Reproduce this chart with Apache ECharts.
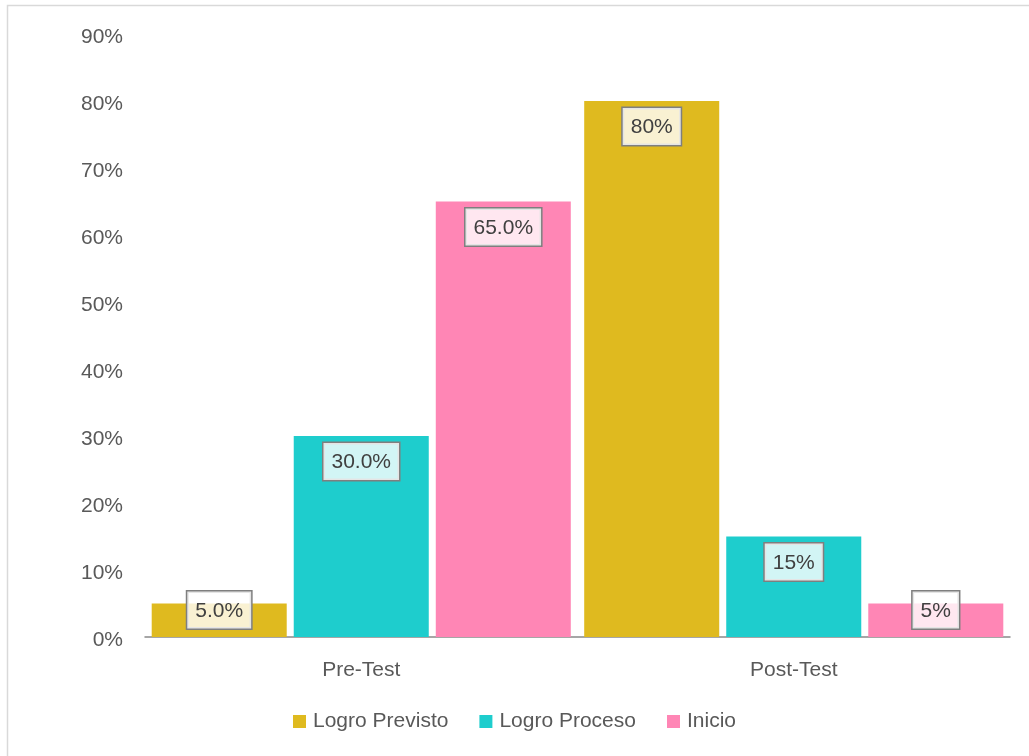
<!DOCTYPE html>
<html>
<head>
<meta charset="utf-8">
<script src="https://cdn.jsdelivr.net/npm/echarts@6/dist/echarts.min.js"></script>
<style>
html,body{margin:0;padding:0;background:#fff;}
#chart{width:1029px;height:756px;}
</style>
</head>
<body>
<div id="chart"></div>
<script>
var categories = ['Pre-Test', 'Post-Test'];
var seriesNames = ['Logro Previsto', 'Logro Proceso', 'Inicio'];
var logroPrevisto = [5, 80];
var logroProceso = [30, 15];
var inicio = [65, 5];
var labelTexts = [['5.0%', '80%'], ['30.0%', '15%'], ['65.0%', '5%']];
var yTicks = [0, 10, 20, 30, 40, 50, 60, 70, 80, 90];
var colors = ['#DFBA1F', '#1ECDCD', '#FF86B5'];
var FONT = 'Liberation Sans';
var FS = 21;

var chart = echarts.init(document.getElementById('chart'));
var dataSets = [logroPrevisto, logroProceso, inicio];

function makeSeries(idx) {
  return {
    name: seriesNames[idx],
    type: 'bar',
    barGap: '5.2%',
    barCategoryGap: '3.1%',
    itemStyle: { color: colors[idx] },
    data: dataSets[idx].map(function (v, i) {
      var small = v < 10;
      return {
        value: v,
        label: {
          formatter: labelTexts[idx][i],
          position: 'insideTop',
          distance: 7,
          offset: small ? [0, -19] : [0, 0]
        }
      };
    }),
    label: {
      show: true,
      color: '#404040',
      fontFamily: FONT,
      fontSize: FS,
      backgroundColor: 'rgba(255,255,255,0.8)',
      borderColor: '#7F7F7F',
      borderWidth: 1.5,
      padding: [9, 8, 7, 8]
    }
  };
}

chart.setOption({
  animation: false,
  textStyle: { fontFamily: FONT },
  graphic: [{
    type: 'rect',
    shape: { x: 7.5, y: 5.5, width: 1040, height: 780 },
    style: { fill: 'none', stroke: '#D9D9D9', lineWidth: 1.5 },
    silent: true
  }],
  grid: { left: 145, right: 19, top: 34, bottom: 119 },
  legend: {
    bottom: 19,
    left: 'center',
    icon: 'rect',
    itemWidth: 13,
    itemHeight: 13,
    itemGap: 31,
    textStyle: { color: '#595959', fontSize: FS, fontFamily: FONT, padding: [0, 0, 0, 2] },
    data: seriesNames
  },
  xAxis: {
    type: 'category',
    data: categories,
    axisLine: { lineStyle: { color: '#898989', width: 1.5 } },
    axisTick: { show: false },
    axisLabel: { color: '#595959', fontSize: FS, margin: 23, fontFamily: FONT }
  },
  yAxis: {
    type: 'value',
    min: 0,
    max: 90,
    interval: 10,
    axisLine: { show: false },
    axisTick: { show: false },
    splitLine: { show: false },
    axisLabel: {
      color: '#595959', fontSize: FS, margin: 22, fontFamily: FONT,
      formatter: function (v) { return yTicks.indexOf(v) >= 0 ? '{v|' + v + '%}' : ''; },
      rich: { v: { color: '#595959', fontSize: FS, fontFamily: FONT, padding: [6, 0, 0, 0] } }
    }
  },
  series: [makeSeries(0), makeSeries(1), makeSeries(2)]
});
</script>
</body>
</html>
